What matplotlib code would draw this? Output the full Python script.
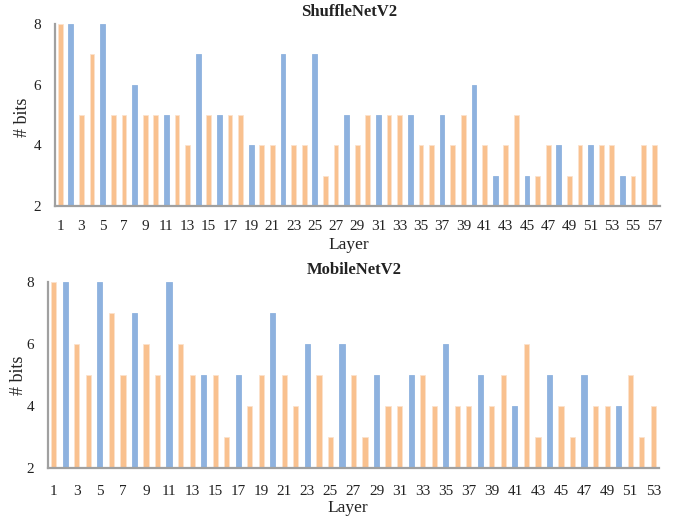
import matplotlib.pyplot as plt

FILE_ANH = "out.png"

# ShuffleNetV2: bits per layer, "b" = blue bar, "o" = orange bar
shuffle_bits = [8, 8, 5, 7, 8, 5, 5, 6, 5, 5, 5, 5, 4, 7, 5, 5, 5, 5, 4, 4,
                4, 7, 4, 4, 7, 3, 4, 5, 4, 5, 5, 5, 5, 5, 4, 4, 5, 4, 5, 6,
                4, 3, 4, 5, 3, 3, 4, 4, 3, 4, 4, 4, 4, 3, 3, 4, 4]
shuffle_kind = "obooboobooboobobooboobooboobooboobooboobobooboobooboobooo"

# MobileNetV2
mobile_bits = [8, 8, 6, 5, 8, 7, 5, 7, 6, 5, 8, 6, 5, 5, 5, 3, 5, 4, 5, 7,
               5, 4, 6, 5, 3, 6, 5, 3, 5, 4, 4, 5, 5, 4, 6, 4, 4, 5, 4, 5,
               4, 6, 3, 5, 4, 3, 5, 4, 4, 4, 5, 3, 4]
mobile_kind = "obooboobooboobooboobooboobooboobooboobooboobooboobooo"

MAU_XANH = "#8EB2DF"
MAU_CAM = "#F9C18F"
MAU_CHU = "#222222"


def ve_mot_bieu_do(fig, rect, title, title_xy, layer_xy, ylabel_xy,
                   bits, kind, tick_pad):
    ax = fig.add_axes(rect)
    layers = list(range(1, len(bits) + 1))
    colors = [MAU_XANH if k == "b" else MAU_CAM for k in kind]
    edges = [MAU_XANH if k == "b" else "#FCE2CC" for k in kind]
    ax.bar(layers, [b - 2 for b in bits], bottom=2, width=0.45,
           color=colors, edgecolor=edges, linewidth=0.6)

    ax.set_xlim(0.5, len(bits) + 0.5)
    ax.set_ylim(2, 8)
    ax.set_yticks([2, 4, 6, 8])
    ax.set_xticks(layers[::2])
    ax.tick_params(length=0, labelsize=11, colors=MAU_CHU)
    ax.tick_params(axis="x", pad=tick_pad)
    ax.tick_params(axis="y", pad=10)

    for side in ["top", "right"]:
        ax.spines[side].set_visible(False)
    for side in ["left", "bottom"]:
        ax.spines[side].set_color("#A0A0A0")
        ax.spines[side].set_linewidth(1.6)

    fig.text(ylabel_xy[0], ylabel_xy[1], "# bits", rotation=90,
             ha="center", va="center", fontsize=13, color=MAU_CHU)
    fig.text(title_xy[0], title_xy[1], title, ha="center", va="center",
             fontsize=12, fontweight="bold", color=MAU_CHU)
    fig.text(layer_xy[0], layer_xy[1], "Layer", ha="center", va="center",
             fontsize=12.5, color=MAU_CHU)
    return ax


def main():
    plt.rcParams["font.family"] = ["Liberation Serif", "DejaVu Serif"]
    fig = plt.figure(figsize=(6.77, 5.17), dpi=100)

    ve_mot_bieu_do(fig, [0.0812, 0.6015, 0.893, 0.352], "ShuffleNetV2",
                   (0.515, 0.977), (0.515, 0.526), (0.0325, 0.774),
                   shuffle_bits, shuffle_kind, 10)
    ve_mot_bieu_do(fig, [0.0709, 0.0948, 0.9025, 0.36], "MobileNetV2",
                   (0.524, 0.478), (0.513, 0.017), (0.027, 0.275),
                   mobile_bits, mobile_kind, 12)

    fig.savefig(FILE_ANH, dpi=100)


if __name__ == "__main__":
    main()
